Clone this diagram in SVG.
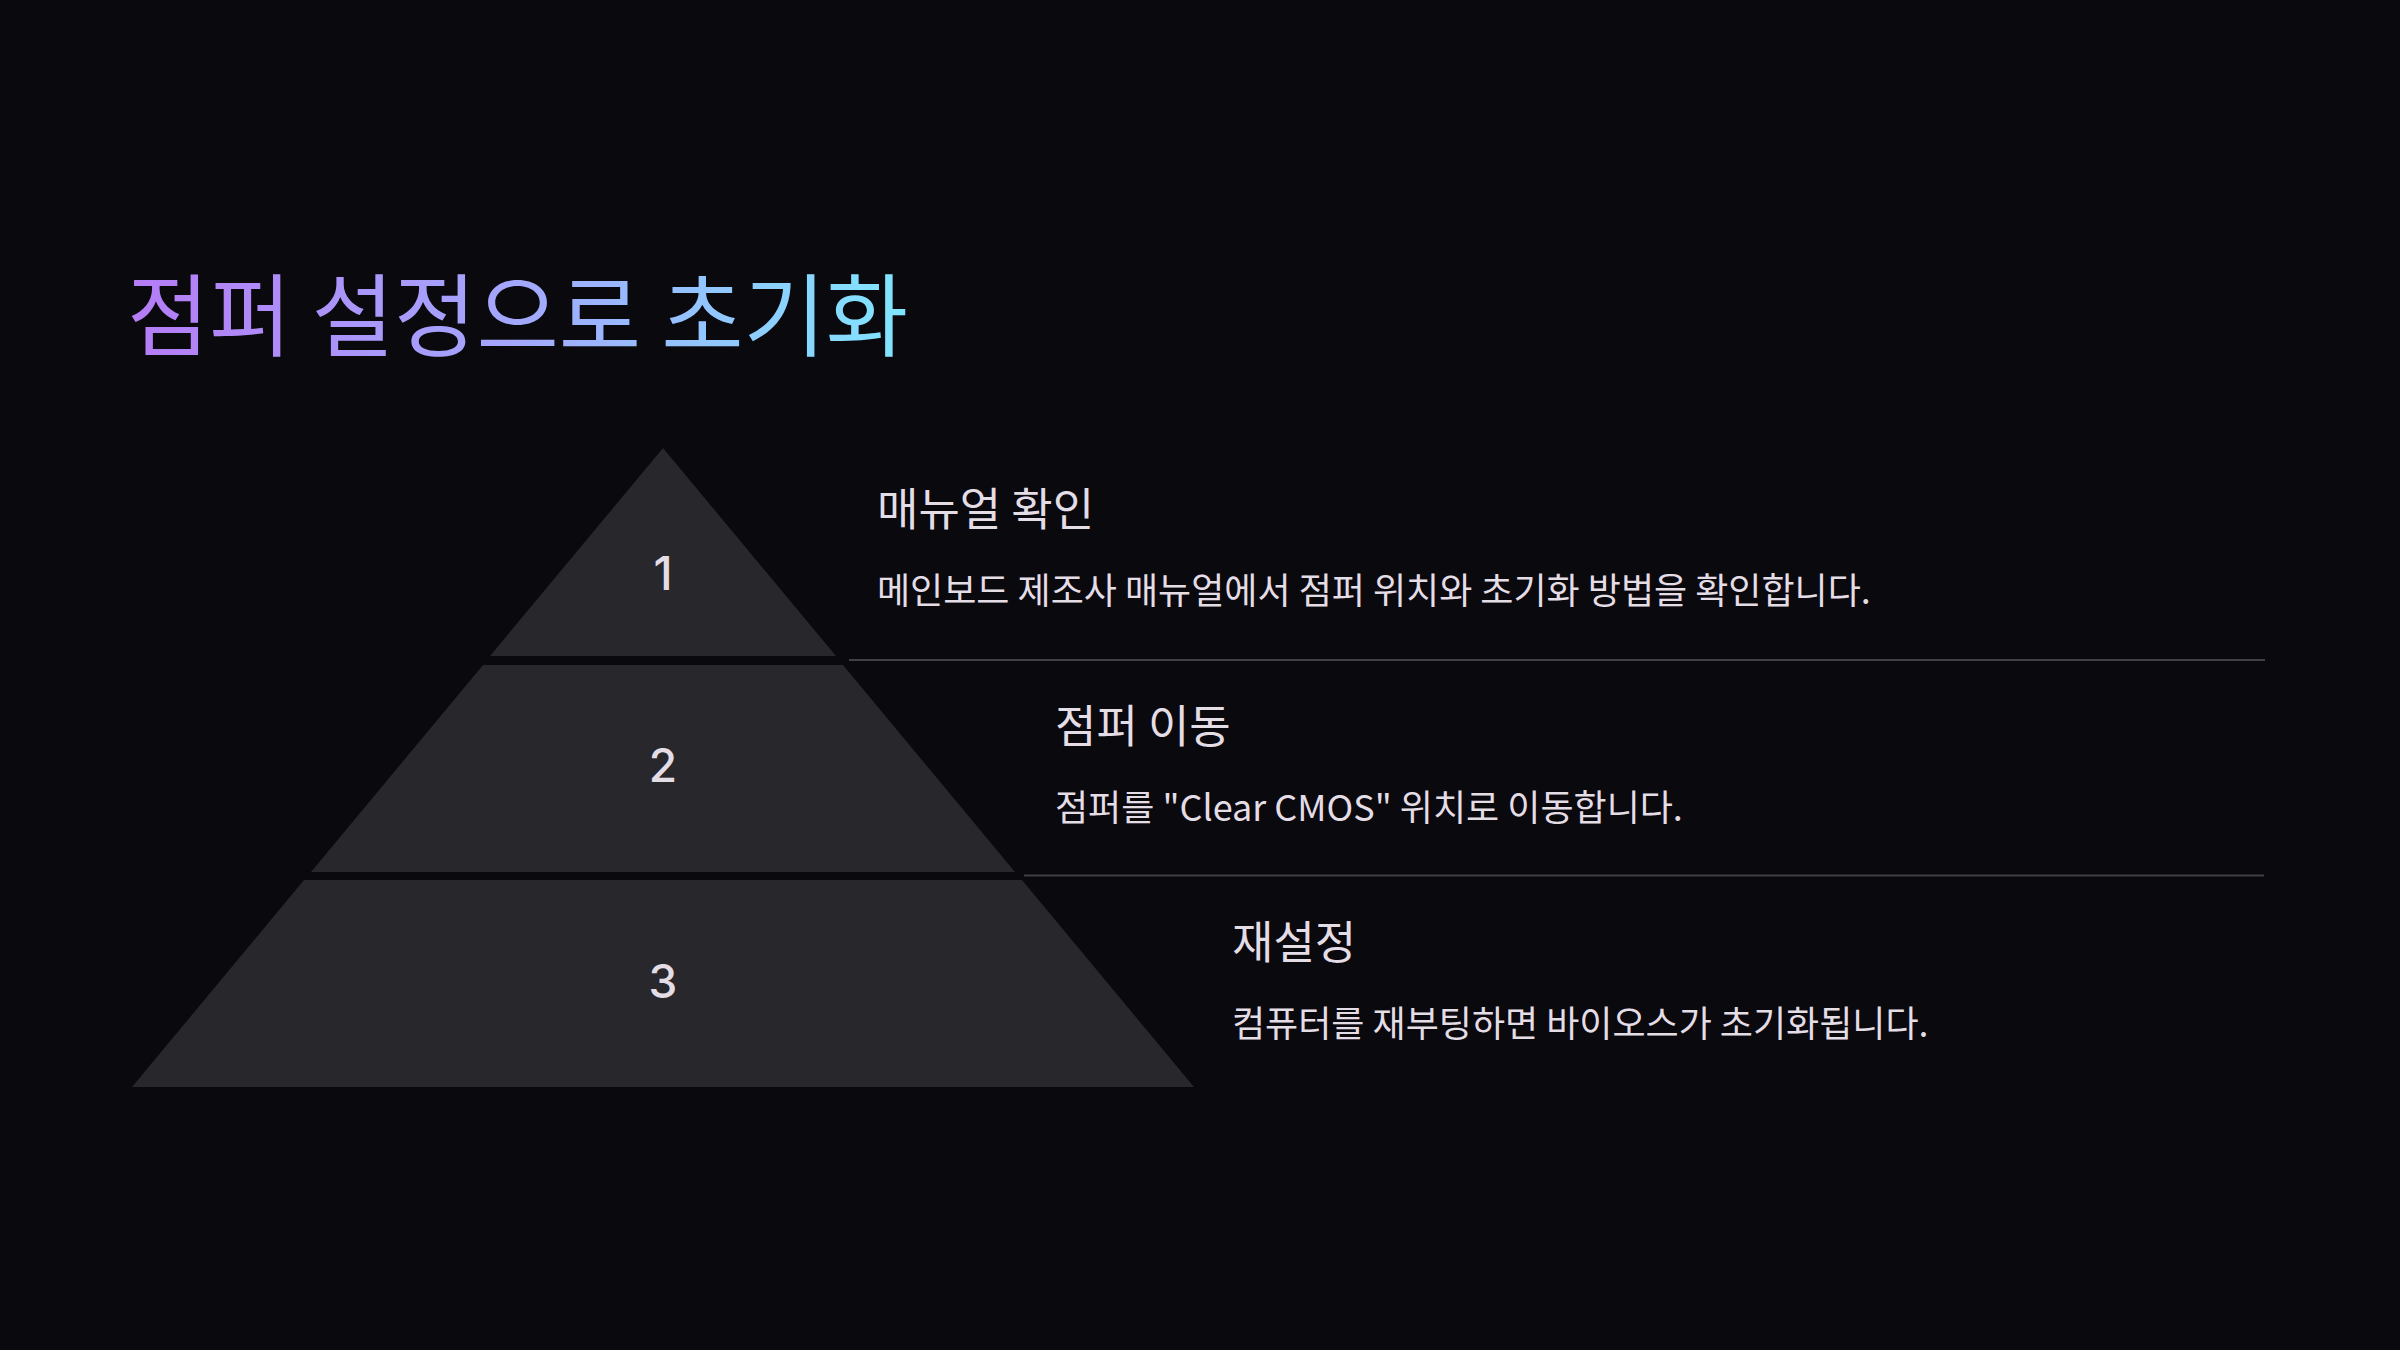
<svg xmlns="http://www.w3.org/2000/svg" width="2400" height="1350" viewBox="0 0 2400 1350">
<defs>
<linearGradient id="tg" x1="128" y1="0" x2="910" y2="0" gradientUnits="userSpaceOnUse">
<stop offset="0" stop-color="#b57cf6"/>
<stop offset="0.5" stop-color="#a3a8fd"/>
<stop offset="1" stop-color="#80e6ff"/>
</linearGradient>
<style>
.kr{font-family:"Noto Sans CJK KR","Noto Sans",sans-serif;}
.band{fill:#27272c;}
.num{font-family:Inter,"Noto Sans",sans-serif;font-size:46px;font-weight:500;fill:#e4dde6;text-anchor:middle;}
.h{font-size:45px;fill:#e4dde6;}
.d{font-size:36px;fill:#e4dde6;}
.sep{stroke:#3f3f46;stroke-width:2;}
</style>
</defs>
<rect width="2400" height="1350" fill="#09090e"/>
<text class="kr" x="127" y="349" font-size="89.5" fill="url(#tg)">점퍼 설정으로 초기화</text>
<g id="connectors">
<line class="sep" x1="849" y1="660" x2="2265" y2="660"/>
<line class="sep" x1="1024" y1="875.5" x2="2264" y2="875.5"/>
</g>
<g id="step1">
<polygon class="band" points="663,448 836,656 490,656"/>
<text class="num" x="663" y="590">1</text>
<text class="kr h" x="877" y="526">매뉴얼 확인</text>
<text class="kr d" x="877" y="604">메인보드 제조사 매뉴얼에서 점퍼 위치와 초기화 방법을 확인합니다.</text>
</g>
<g id="step2">
<polygon class="band" points="483,665 843,665 1015,872 311,872"/>
<text class="num" x="663" y="782">2</text>
<text class="kr h" x="1055" y="743">점퍼 이동</text>
<text class="kr d" x="1055" y="821">점퍼를 "Clear CMOS" 위치로 이동합니다.</text>
</g>
<g id="step3">
<polygon class="band" points="304,880 1022,880 1194,1087 132,1087"/>
<text class="num" x="663" y="998">3</text>
<text class="kr h" x="1232" y="959">재설정</text>
<text class="kr d" x="1232" y="1037">컴퓨터를 재부팅하면 바이오스가 초기화됩니다.</text>
</g>
</svg>
